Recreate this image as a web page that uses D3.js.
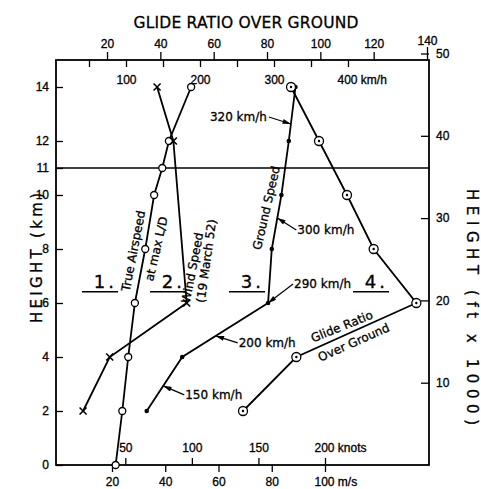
<!DOCTYPE html>
<html>
<head>
<meta charset="utf-8">
<script src="https://cdn.jsdelivr.net/npm/d3@7"></script>
<style>
  body { margin: 0; background: #fff; }
  svg { font-family: "DejaVu Sans", sans-serif; }
  svg text { stroke: #000; stroke-width: 0.3; }
  .axis text { font-size: 12px; fill: #000; }
  .axis line { stroke: #000; stroke-width: 1.3; }
</style>
</head>
<body>
<svg id="chart" width="481" height="489"></svg>
<script>
// series, height in km
const airspeedHeights = [0, 2, 4, 6, 8, 10, 11, 12, 14];
const airspeedKmh = [86, 95, 103, 112, 126, 138, 149, 158, 188];
const windHeights = [2, 4, 6, 12, 14];
const windKmh = [42, 78, 182, 164, 142];
const groundHeights = [2, 4, 6, 8, 10, 12, 14];
const groundKmh = [128, 176, 292, 297, 310, 320, 329];
const glideHeights = [2, 4, 6, 8, 10, 12, 14];
const glideRatio = [71, 91, 136, 120, 110, 99.5, 89];

// tick values
const kmTicks = [0, 2, 4, 6, 8, 10, 11, 12, 14];
const ftTicks = [10, 20, 30, 40, 50];
const glideTicks = [20, 40, 60, 80, 100, 120, 140];
const kmhTicks = [50, 100, 150, 200, 250, 300, 350, 400];
const kmhLabels = [100, 200, 300, 400];
const msTicks = [20, 40, 60, 80, 100];
const knotTicks = [50, 100, 150, 200];

// speed labels on the ground speed line (height where the arrow hits)
const speedNotes = [
  { text: '320 km/h', h: 12.63, dx: -24, dy: -7 },
  { text: '300 km/h', h: 9.15, dx: 20, dy: 12 },
  { text: '290 km/h', h: 6.0, dx: 26, dy: -19 },
  { text: '200 km/h', h: 4.78, dx: 23, dy: 7 },
  { text: '150 km/h', h: 2.93, dx: 22, dy: 9 }
];

const svg = d3.select('#chart');
const plotL = 56, plotR = 429, plotT = 60, plotB = 465;

const yKm = d3.scaleLinear().domain([0, 15]).range([plotB, plotT]);
const yFt = d3.scaleLinear().domain([0, 15 * 3.28084]).range([plotB, plotT]);
const xKmh = d3.scaleLinear().domain([0, 400]).range([52, 348]);
const xMs = d3.scaleLinear().domain([0, 100]).range([58.75, 325]);
const xKnots = d3.scaleLinear().domain([0, 200]).range([58.75, 325]);
const xGlide = d3.scaleLinear().domain([0, 140]).range([53.7, 427]);

// frame
svg.append('rect')
  .attr('x', plotL).attr('y', plotT)
  .attr('width', plotR - plotL).attr('height', plotB - plotT)
  .attr('fill', 'none').attr('stroke', '#000').attr('stroke-width', 1.8);

// 11 km line (tropopause)
svg.append('line')
  .attr('x1', plotL).attr('x2', plotR)
  .attr('y1', yKm(11)).attr('y2', yKm(11))
  .attr('stroke', '#000').attr('stroke-width', 1.6);

function tidy(g) {
  g.select('.domain').remove();
  g.attr('class', 'axis');
}

// left km axis
svg.append('g')
  .attr('transform', `translate(${plotL},0)`)
  .call(d3.axisLeft(yKm).tickValues(kmTicks).tickSize(-7).tickPadding(7).tickFormat(d3.format('d')))
  .call(tidy);

// right ft axis
svg.append('g')
  .attr('transform', `translate(${plotR},0)`)
  .call(d3.axisRight(yFt).tickValues(ftTicks).tickSize(-8).tickPadding(7))
  .call(tidy);

// top glide ratio axis
const gTop = svg.append('g')
  .attr('transform', `translate(0,${plotT})`)
  .call(d3.axisTop(xGlide).tickValues(glideTicks).tickSize(8).tickPadding(4))
  .call(tidy);
gTop.selectAll('.tick').filter(d => d === 140).select('line').attr('y2', -13);
gTop.selectAll('.tick').filter(d => d === 140).select('text').attr('y', -15);

// top km/h axis
const gKmh = svg.append('g')
  .attr('transform', `translate(0,${plotT})`)
  .call(d3.axisBottom(xKmh).tickValues(kmhTicks).tickSize(7).tickPadding(8)
    .tickFormat(d => kmhLabels.includes(d) ? d : ''))
  .call(tidy);
gKmh.selectAll('.tick').filter(d => d === 400).select('text')
  .attr('text-anchor', 'start').attr('dx', '-11px')
  .text('400 km/h');

// bottom m/s axis
const gMs = svg.append('g')
  .attr('transform', `translate(0,${plotB})`)
  .call(d3.axisBottom(xMs).tickValues(msTicks).tickSize(7).tickPadding(5))
  .call(tidy);
gMs.selectAll('.tick').filter(d => d === 100).select('text')
  .attr('text-anchor', 'start').attr('dx', '-11px').text('100 m/s');

// bottom knots axis
const gKn = svg.append('g')
  .attr('transform', `translate(0,${plotB})`)
  .call(d3.axisTop(xKnots).tickValues(knotTicks).tickSize(7).tickPadding(6))
  .call(tidy);
gKn.selectAll('.tick').filter(d => d === 200).select('text')
  .attr('text-anchor', 'start').attr('dx', '-11px').text('200 knots');

// titles
svg.append('text')
  .attr('x', 246).attr('y', 28)
  .attr('text-anchor', 'middle')
  .attr('font-size', 15.5)
  .attr('textLength', 225).attr('lengthAdjust', 'spacing')
  .text('GLIDE RATIO OVER GROUND');

svg.append('text')
  .attr('transform', 'translate(42,258) rotate(-90)')
  .attr('text-anchor', 'middle')
  .attr('font-size', 15)
  .attr('textLength', 130).attr('lengthAdjust', 'spacing')
  .text('HEIGHT (km)');

svg.append('text')
  .attr('transform', 'translate(467,307) rotate(90)')
  .attr('text-anchor', 'middle')
  .attr('font-size', 15)
  .attr('textLength', 236).attr('lengthAdjust', 'spacing')
  .text('HEIGHT (ft x 1000)');

// lines
function drawSeries(heights, values, xs) {
  const pts = heights.map((h, i) => ({ h, v: values[i] }));
  svg.append('path')
    .datum(pts)
    .attr('fill', 'none')
    .attr('stroke', '#000')
    .attr('stroke-width', 1.8)
    .attr('d', d3.line().x(d => xs(d.v)).y(d => yKm(d.h)));
  return pts;
}

const airPts = drawSeries(airspeedHeights, airspeedKmh, xKmh);
const windPts = drawSeries(windHeights, windKmh, xKmh);
const groundPts = drawSeries(groundHeights, groundKmh, xKmh);
const glidePts = drawSeries(glideHeights, glideRatio, xGlide);

// markers
svg.selectAll('.air').data(airPts).enter().append('circle')
  .attr('cx', d => xKmh(d.v)).attr('cy', d => yKm(d.h)).attr('r', 3.5)
  .attr('fill', '#fff').attr('stroke', '#000').attr('stroke-width', 1.3);

svg.selectAll('.wind').data(windPts).enter().append('path')
  .attr('d', d => {
    const x = xKmh(d.v), y = yKm(d.h), s = 3.5;
    return `M${x - s},${y - s}L${x + s},${y + s}M${x - s},${y + s}L${x + s},${y - s}`;
  })
  .attr('stroke', '#000').attr('stroke-width', 1.6);

svg.selectAll('.ground').data(groundPts).enter().append('circle')
  .attr('cx', d => xKmh(d.v)).attr('cy', d => yKm(d.h)).attr('r', 2.3)
  .attr('fill', '#000');

const gl = svg.selectAll('.glide').data(glidePts).enter().append('g')
  .attr('transform', d => `translate(${xGlide(d.v)},${yKm(d.h)})`);
gl.append('circle').attr('r', 4.5).attr('fill', '#fff').attr('stroke', '#000').attr('stroke-width', 1.3);
gl.append('circle').attr('r', 1.2).attr('fill', '#000');

// arrows for the speed notes
svg.append('defs').append('marker')
  .attr('id', 'arr')
  .attr('viewBox', '0 0 10 6')
  .attr('refX', 10).attr('refY', 3)
  .attr('markerWidth', 9).attr('markerHeight', 5)
  .attr('markerUnits', 'userSpaceOnUse')
  .attr('orient', 'auto')
  .append('path').attr('d', 'M0,0L10,3L0,6Z').attr('fill', '#000');

const groundAt = d3.scaleLinear().domain(groundHeights).range(groundKmh);
speedNotes.forEach(n => {
  const tx = xKmh(groundAt(n.h)), ty = yKm(n.h);
  const lx = tx + n.dx, ly = ty + n.dy;
  svg.append('line')
    .attr('x1', n.dx < 0 ? lx + 2 : lx - 1).attr('y1', ly)
    .attr('x2', tx).attr('y2', ty)
    .attr('stroke', '#000').attr('stroke-width', 1.2)
    .attr('marker-end', 'url(#arr)');
  svg.append('text')
    .attr('x', lx).attr('y', ly + 4)
    .attr('text-anchor', n.dx < 0 ? 'end' : 'start')
    .attr('font-size', 12)
    .text(n.text);
});

// rotated series names
function label(text, x, y, angle, size) {
  svg.append('text')
    .attr('transform', `translate(${x},${y}) rotate(${angle})`)
    .attr('text-anchor', 'middle')
    .attr('dominant-baseline', 'middle')
    .attr('font-size', size || 12)
    .text(text);
}
label('True Airspeed', 134, 251, -79);
label('at max L/D', 157, 249, -77);
label('Wind Speed', 193, 268, -79);
label('(19 March 52)', 207, 261, -82);
label('Ground Speed', 267, 208, -77);
label('Glide Ratio', 342, 327, -22);
label('Over Ground', 354, 343, -24);

// numbered panels with underlines
const panelLabels = ['1.', '2.', '3.', '4.'];
const panelX = [82, 150, 229, 353];
panelLabels.forEach((t, i) => {
  svg.append('line')
    .attr('x1', panelX[i]).attr('x2', panelX[i] + 36)
    .attr('y1', yKm(6.42)).attr('y2', yKm(6.42))
    .attr('stroke', '#000').attr('stroke-width', 1.5);
  svg.append('text')
    .attr('x', panelX[i] + 35).attr('y', yKm(6.42) - 4)
    .attr('text-anchor', 'end')
    .attr('font-size', 18)
    .attr('letter-spacing', 3)
    .text(t);
});
</script>
</body>
</html>
